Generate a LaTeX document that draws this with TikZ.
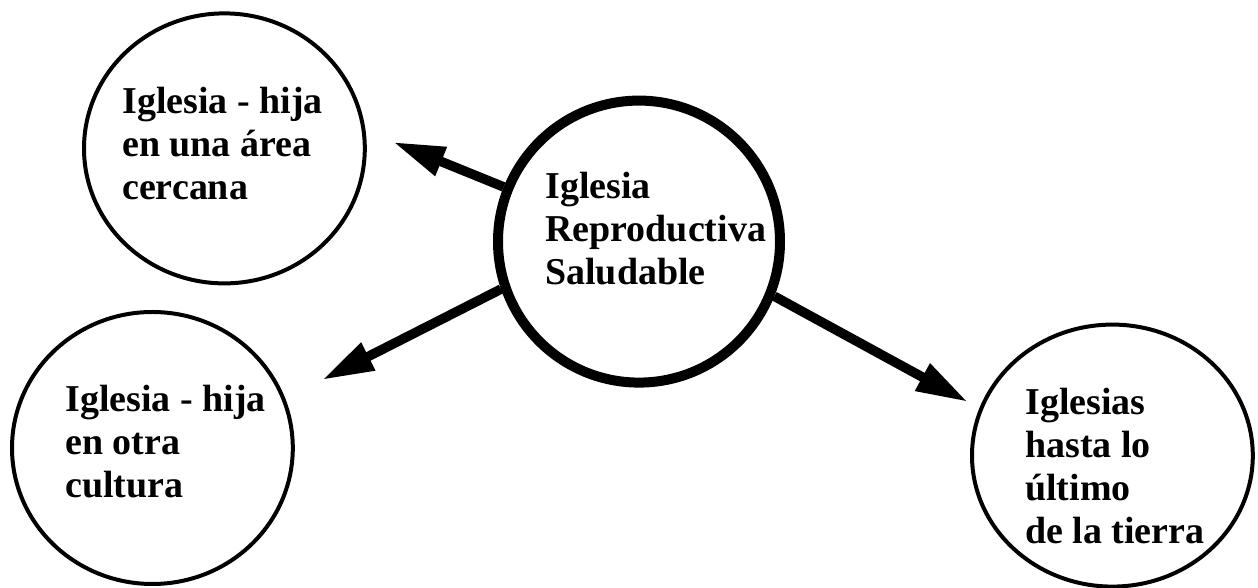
\documentclass[tikz,border=0pt]{standalone}
\usepackage{fontspec}
\setmainfont{Liberation Serif}
\usetikzlibrary{arrows.meta,shapes.geometric}
\tikzset{
	orb/.style={draw,ellipse,line width=.1cm,minimum width=7.02cm,minimum height=6.75cm,inner sep=0pt},
	hubring/.style={draw,circle,line width=.25cm,minimum size=7.05cm,inner sep=0pt},
	lbl/.style={anchor=north west,align=left,inner sep=0pt,font=\fontsize{27}{30.6}\selectfont\bfseries},
	arr/.style={line width=.24cm,-{Triangle[length=1.3cm,width=.72cm]}}
}
\begin{document}
\begin{tikzpicture}
	\useasboundingbox(0,0)rectangle(31.45,14.7);
	\node[hubring](hub)at(15.975,8.66){};
	\node[orb](near)at(5.61,10.99){};
	\node[orb,minimum height=6.8cm](other)at(3.81,3.5){};
	\node[orb,minimum height=6.55cm](far)at(27.81,3.31){};
	\node[lbl](hubtxt)at(13.625,10.4){Iglesia\\Reproductiva\\Saludable};
	\node[lbl](neartxt)at(3.05,12.525){Iglesia - hija\\en una área\\cercana};
	\node[lbl](othertxt)at(1.625,5.075){Iglesia - hija\\en otra\\cultura};
	\node[lbl](fartxt)at(25.625,5.0){Iglesias\\hasta lo\\último\\de la tierra};
	\coordinate(nearTip)at(9.825,11.15);
	\coordinate(otherTip)at(8.05,5.2);
	\coordinate(farTip)at(24.2,4.65);
	\draw[arr](hub.158)--(nearTip);
	\draw[arr](hub.199)--(otherTip);
	\draw[arr](hub.338)--(farTip);
\end{tikzpicture}
\end{document}
